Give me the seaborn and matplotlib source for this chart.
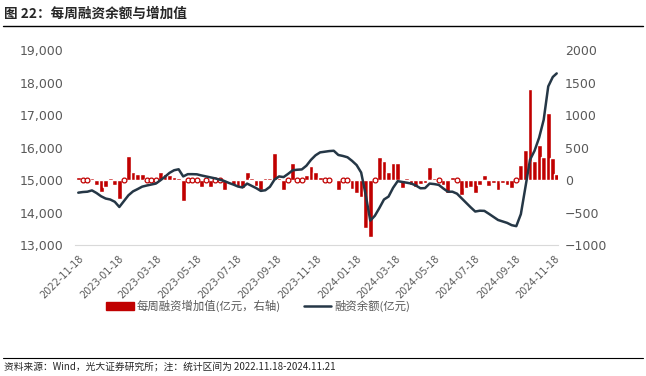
import numpy as np
import pandas as pd
import matplotlib
matplotlib.use("Agg")
import matplotlib.pyplot as plt
import matplotlib.dates as mdates
import seaborn as sns
from matplotlib.patches import Patch
from matplotlib.lines import Line2D

sns.set_style("white")
plt.rcParams["font.family"] = ["Noto Sans CJK SC", "DejaVu Sans"]

RED = "#C00000"
NAVY = "#253746"
GREY = "#595959"

# weekly data 2022-11-18 .. 2024-11-21
dates = list(pd.date_range("2022-11-18", periods=105, freq="7D")) + [pd.Timestamp("2024-11-21")]

# 融资余额 (亿元, left axis)
balance = [14610, 14630, 14640, 14680, 14600, 14500, 14430, 14400, 14330, 14170,
           14350, 14530, 14650, 14720, 14795, 14830, 14860, 14890, 14990, 15100,
           15220, 15300, 15330, 15110, 15180, 15180, 15175, 15140, 15110, 15080,
           15050, 15010, 14970, 14910, 14860, 14800, 14770, 14890, 14820, 14750,
           14665, 14685, 14790, 15010, 15110, 15090, 15190, 15300, 15316, 15326,
           15440, 15620, 15760, 15850, 15870, 15890, 15900, 15770, 15740, 15700,
           15590, 15460, 15230, 14540, 13750, 13900, 14140, 14400, 14490, 14760,
           14965, 14940, 14917, 14890, 14830, 14745, 14750, 14890, 14875, 14850,
           14740, 14640, 14640, 14580, 14440, 14300, 14160, 14030, 14055, 14050,
           13960, 13865, 13770, 13725, 13680, 13610, 13580, 13950, 14780, 15620,
           15900, 16300, 16850, 17880, 18170, 18280]

# 每周融资增加值 (亿元, right axis)
weekly_add = [40, 5, 5, 30, -75, -180, -100, 25, -75, -290,
              5, 375, 130, 100, 90, 10, 5, 10, 120, 100,
              75, 50, 30, -320, 5, 5, 10, -100, 5, -100,
              5, 5, -150, 20, -75, -100, -125, 130, 25, -90,
              -160, 25, 35, 410, 25, -160, 5, 260, 5, 5,
              75, 220, 130, 50, 5, 5, 20, -160, 5, 5,
              -140, -200, -260, -745, -880, 5, 360, 300, 130, 255,
              255, -125, 25, -75, -100, -60, -50, 200, 25, 10,
              -75, -205, 50, 5, -230, -130, -100, -205, -75, 75,
              -85, -50, -155, -50, -75, -130, 5, 230, 460, 1400,
              300, 540, 360, 1025, 335, 100]

tick_dates = pd.date_range("2022-11-18", "2024-11-18", freq=pd.DateOffset(months=2))

df = pd.DataFrame({"x": mdates.date2num(dates), "balance": balance, "add": weekly_add})
small = df[df["add"].abs() <= 10]

fig = plt.figure(figsize=(6.46, 3.76), dpi=100)
ax = fig.add_axes([0.1161, 0.3484, 0.7477, 0.5186])

# bars on the right-hand scale
sns.barplot(data=df, x="x", y="add", native_scale=True, color=RED, saturation=1,
            width=1.25, errorbar=None, ax=ax)
sns.scatterplot(data=small, x="x", y=np.zeros(len(small)), ax=ax, marker="o", s=12,
                facecolor="white", edgecolor=RED, linewidth=0.9, zorder=3)
ax.set_ylim(-1000, 2000)
ax.set_yticks(range(-1000, 2001, 500))
ax.set_ylabel("")
ax.set_xlabel("")

# balance line on the left-hand scale
ax2 = ax.twinx()
sns.lineplot(data=df, x="x", y="balance", ax=ax2, color=NAVY, linewidth=1.8)
ax2.set_ylim(13000, 19000)
ax2.set_yticks(range(13000, 19001, 1000))
ax2.set_yticklabels([f"{v:,}" for v in range(13000, 19001, 1000)])
ax2.set_ylabel("")

# twinx resets sides, so swap them afterwards
ax.yaxis.tick_right()
ax2.yaxis.tick_left()

ax.set_xlim(mdates.date2num(pd.Timestamp("2022-11-13")), mdates.date2num(pd.Timestamp("2024-11-23")))
ax.set_xticks(mdates.date2num(tick_dates))
ax.set_xticklabels([d.strftime("%Y-%m-%d") for d in tick_dates], rotation=45,
                   ha="right", rotation_mode="anchor")

for a in (ax, ax2):
    for s in ("top", "left", "right"):
        a.spines[s].set_visible(False)
ax2.spines["bottom"].set_visible(False)
ax.spines["bottom"].set_color("#D9D9D9")

ax.tick_params(axis="x", length=5, color="#D9D9D9", colors=GREY, labelsize=7, pad=1,
               labelfontfamily="DejaVu Sans")
ax.tick_params(axis="y", length=0, colors=GREY, labelsize=9, pad=5, labelfontfamily="DejaVu Sans")
ax2.tick_params(axis="y", length=0, colors=GREY, labelsize=9, pad=8, labelfontfamily="DejaVu Sans")
ax.grid(False)
ax2.grid(False)

handles = [Patch(facecolor=RED, edgecolor=RED), Line2D([], [], color=NAVY, lw=1.8)]
labels = ["每周融资增加值(亿元，右轴)", "融资余额(亿元)"]
fig.legend(handles, labels, loc="center", bbox_to_anchor=(0.40, 0.186), ncol=2, frameon=False,
           fontsize=8.2, handlelength=2.4, columnspacing=2.0, handletextpad=0.3, labelcolor=GREY)

fig.text(0.006, 0.963, "图 22：每周融资余额与增加值", fontsize=9.8, fontweight="bold", va="center")
fig.add_artist(Line2D([0.005, 0.995], [0.931, 0.931], color="black", lw=1))
fig.add_artist(Line2D([0.005, 0.995], [0.048, 0.048], color="black", lw=0.8))
fig.text(0.006, 0.025, "资料来源：Wind，光大证券研究所；注：统计区间为 2022.11.18-2024.11.21",
         fontsize=7, va="center")

fig.savefig("out.png", dpi=100)
